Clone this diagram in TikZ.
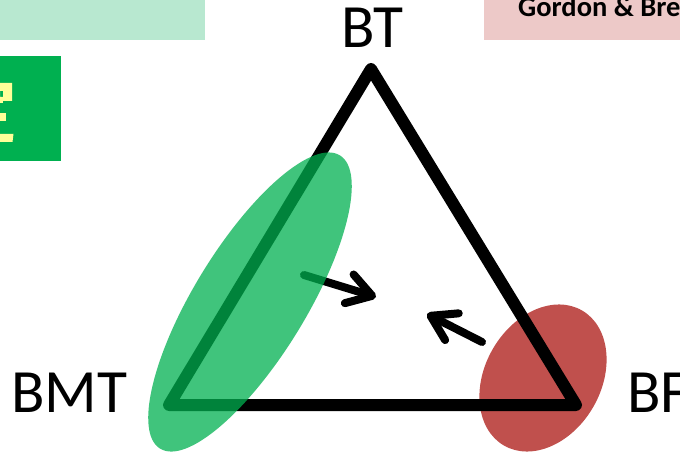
\documentclass[tikz,border=0pt]{standalone}
\usepackage{fontspec}
\setmainfont{Carlito}
\usetikzlibrary{arrows.meta}
\definecolor{bandgreen}{RGB}{184,232,208}
\definecolor{bandpink}{RGB}{237,201,200}
\definecolor{boxgreen}{RGB}{0,176,80}
\definecolor{glyphyellow}{RGB}{255,255,153}
\definecolor{blobred}{RGB}{192,80,77}
\tikzset{
  corner/.style={font=\fontsize{61.5}{62}\selectfont, inner sep=0pt},
  edge/.style={line width=12pt, line join=round, line cap=round},
  push/.style={line width=8pt, line cap=round,
    -{Straight Barb[length=24pt, width=30pt, round]}},
}
\begin{document}
\begin{tikzpicture}[x=1pt, y=-1pt]
  \useasboundingbox (0,0) rectangle (680,454);
  \clip (0,0) rectangle (680,454);

  % header bands
  \fill[bandgreen] (0,0) rectangle (205,40);
  \fill[bandpink] (484,0) rectangle (680,40);
  \node[anchor=base west, inner sep=0pt, font=\fontsize{28.5}{29}\selectfont\bfseries]
    (title) at (518,17) {Gordon \& Bre};

  % green side box with its yellow glyph edge
  \fill[boxgreen] (0,56) rectangle (61,161);
  \fill[glyphyellow, even odd rule] (0,83) rectangle (12,101) (0,91) rectangle (3,97);
  \fill[glyphyellow] (0,97) rectangle (3,103);
  \fill[glyphyellow] (0,113) rectangle (6,121);
  \fill[glyphyellow] (0,134) -- (13.5,134) -- (12.5,142) -- (0,142) -- cycle;

  % red region at the BF corner
  \fill[blobred, shift={(543,378)}, rotate=60] (0,0) ellipse [x radius=78pt, y radius=58pt];

  % triangle
  \coordinate (top) at (371,69);
  \coordinate (left) at (169,405);
  \coordinate (right) at (576,405);
  \draw[edge] (top) -- (left) -- (right) -- cycle;

  % arrows towards the interior
  \coordinate (a1s) at (304,275);
  \coordinate (a1e) at (376,297);
  \coordinate (a2s) at (482,342);
  \coordinate (a2e) at (427,314);
  \draw[push] (a1s) -- (a1e);
  \draw[push] (a2s) -- (a2e);

  % translucent green region along the BT-BMT side
  \fill[boxgreen, fill opacity=0.75, shift={(250,302)}, rotate=58.5]
    (0,0) ellipse [x radius=172pt, y radius=56pt];

  % corner labels
  \node[corner, anchor=base] (BT) at (372,48) {BT};
  \node[corner, anchor=base west] (BMT) at (11,412) {BMT};
  \node[corner, anchor=base west] (BF) at (627,412) {BF};
\end{tikzpicture}
\end{document}
